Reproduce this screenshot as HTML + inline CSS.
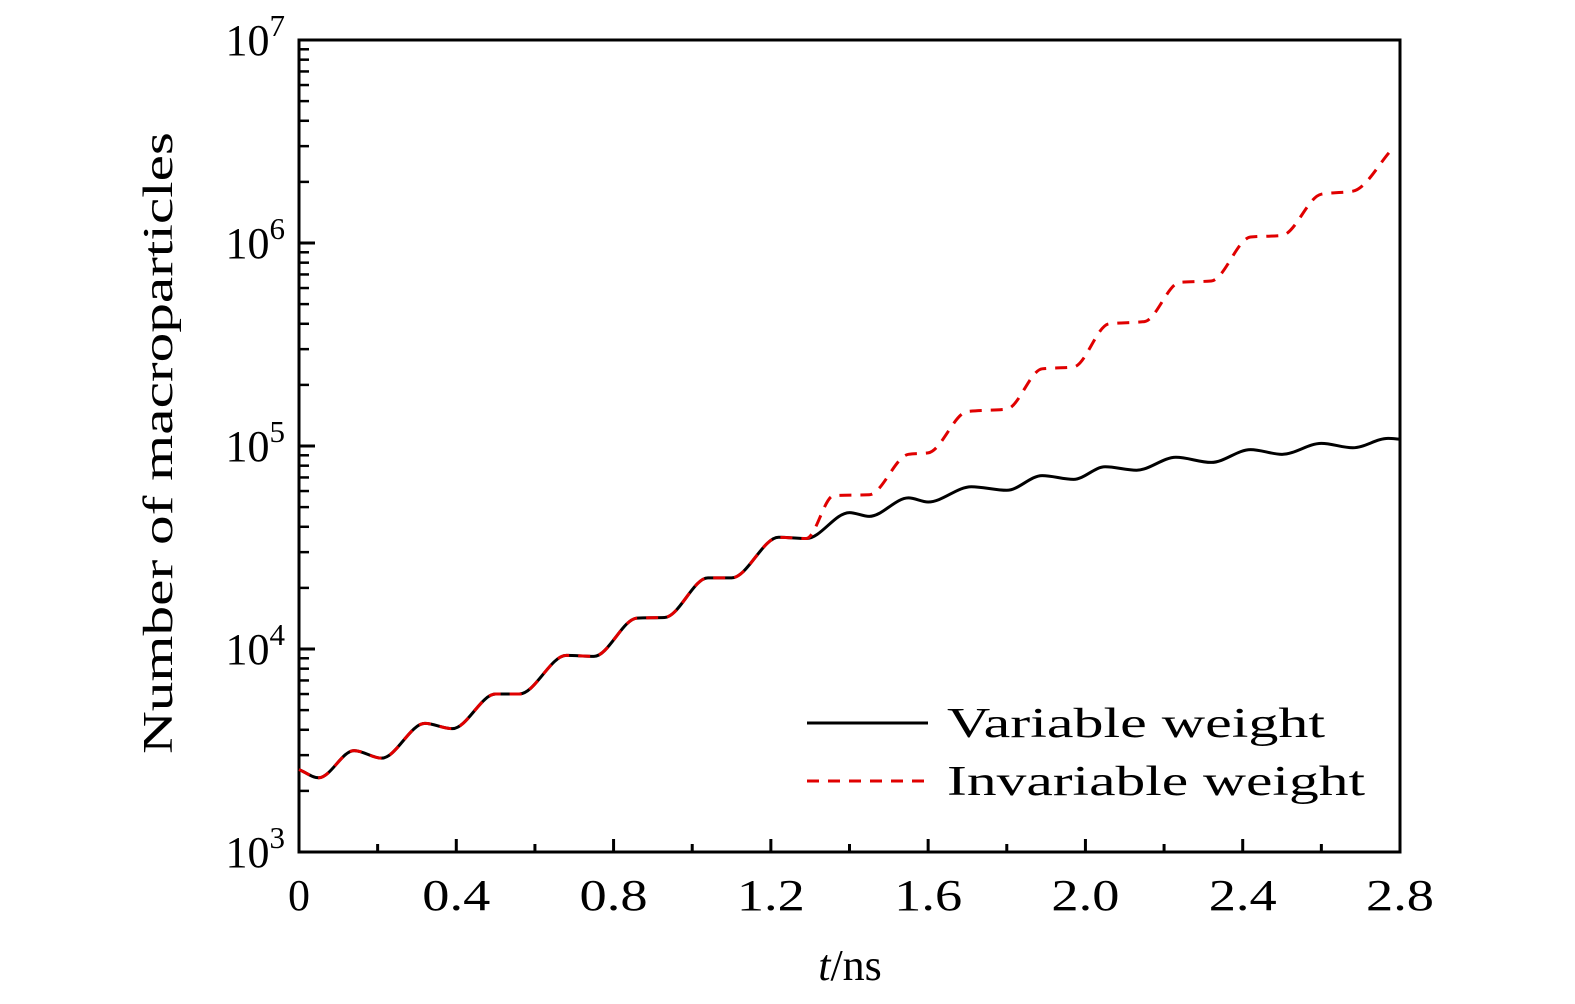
<!DOCTYPE html>
<html><head><meta charset="utf-8">
<style>
html,body{margin:0;padding:0;background:#fff;}
svg{display:block;}
text{font-family:"Liberation Serif",serif;fill:#000;}
</style></head>
<body>
<svg id="chart" width="1575" height="1004" viewBox="0 0 1575 1004" xmlns="http://www.w3.org/2000/svg">
<g id="axes"></g>
<g id="series"></g>
<g id="legend">
  <line x1="807" y1="723" x2="928" y2="723" stroke="#000" stroke-width="3"/>
  <text x="947" y="737" font-size="42" textLength="378" lengthAdjust="spacingAndGlyphs">Variable weight</text>
  <line x1="807" y1="781" x2="928" y2="781" stroke="#e00000" stroke-width="3" stroke-dasharray="12,9"/>
  <text x="947" y="795" font-size="42" textLength="418" lengthAdjust="spacingAndGlyphs">Invariable weight</text>
</g>
</svg>
<script>
const blackT=[0,0.05,0.14,0.21,0.32,0.39,0.5,0.56,0.68,0.75,0.86,0.93,1.04,1.1,1.22,1.29,1.4,1.45,1.55,1.6,1.71,1.8,1.89,1.97,2.05,2.13,2.23,2.32,2.42,2.5,2.6,2.68,2.77,2.8];
const blackV=[2550,2320,3160,2900,4300,4050,6000,6000,9300,9200,14200,14300,22400,22400,35500,35000,47000,45000,55500,53000,63000,60500,71500,68500,79000,76000,88000,83000,96000,91000,103000,98000,109000,108000];
const redT=[0,0.05,0.14,0.21,0.32,0.39,0.5,0.56,0.68,0.75,0.86,0.93,1.04,1.1,1.22,1.29,1.36,1.45,1.55,1.6,1.7,1.8,1.89,1.97,2.06,2.15,2.24,2.32,2.42,2.5,2.6,2.68,2.78];
const redV=[2550,2320,3160,2900,4300,4050,6000,6000,9300,9200,14200,14300,22400,22400,35500,35000,57000,57500,91000,92500,148000,152000,240000,245000,400000,410000,640000,650000,1070000,1090000,1740000,1800000,2900000];
const xTicks=[0,0.4,0.8,1.2,1.6,2.0,2.4,2.8];
const xTickLabels=["0","0.4","0.8","1.2","1.6","2.0","2.4","2.8"];
const yDecades=[3,4,5,6,7];

const X0=299,X1=1400,Y0=852,Y1=40;
const sx=t=>X0+(t/2.8)*(X1-X0);
const sy=v=>Y0-(Math.log10(v)-3)/4*(Y0-Y1);
const NS="http://www.w3.org/2000/svg";
function mk(tag,attrs,parent){const e=document.createElementNS(NS,tag);for(const k in attrs)e.setAttribute(k,attrs[k]);parent.appendChild(e);return e;}
const axes=document.getElementById('axes');
const frame=mk('rect',{x:X0,y:Y1,width:X1-X0,height:Y0-Y1,fill:'none',stroke:'#000','stroke-width':3},axes);


for(let i=0;i<=14;i++){
  const t=i*0.2,x=sx(t),len=(i%2==0)?13:8;
  const l=mk('line',{x1:x,y1:Y0,x2:x,y2:Y0-len,stroke:'#000','stroke-width':3},axes);
  
  
}
xTicks.forEach((t,i)=>{
  const tx=mk('text',{x:sx(t),y:910,'font-size':44,'text-anchor':'middle'},axes);
  tx.textContent=xTickLabels[i];
  if(xTickLabels[i].length>1){tx.setAttribute('textLength',68);tx.setAttribute('lengthAdjust','spacingAndGlyphs');}
  
  
});
yDecades.forEach(d=>{
  const y=sy(Math.pow(10,d));
  const l=mk('line',{x1:X0,y1:y,x2:X0+16,y2:y,stroke:'#000','stroke-width':3},axes);
  
  
  if(d<7){for(let m=2;m<=9;m++){const ym=sy(m*Math.pow(10,d));
    const lm=mk('line',{x1:X0,y1:ym,x2:X0+10,y2:ym,stroke:'#000','stroke-width':2.5},axes);
    
    }}
  const tx=mk('text',{x:285,y:y+15,'font-size':44,'text-anchor':'end'},axes);
  tx.innerHTML='10<tspan dy="-19" font-size="31">'+d+'</tspan>';
  
  
});
const xt=mk('text',{x:850,y:980,'font-size':44,'text-anchor':'middle'},axes);
xt.innerHTML='<tspan font-style="italic">t</tspan>/ns';


const yt=mk('text',{x:0,y:0,'font-size':42,'text-anchor':'middle',textLength:622,lengthAdjust:'spacingAndGlyphs',transform:'translate(172,443) rotate(-90)'},axes);
yt.textContent='Number of macroparticles';



function pathFor(T,V){
  const p=T.map((t,i)=>[sx(t),sy(V[i])]);
  const n=p.length,d=[],m=[];
  for(let i=0;i<n-1;i++)d.push((p[i+1][1]-p[i][1])/(p[i+1][0]-p[i][0]));
  m[0]=d[0];m[n-1]=d[n-2];
  for(let i=1;i<n-1;i++){m[i]=(d[i-1]*d[i]<=0)?0:2/(1/d[i-1]+1/d[i]);}
  let s='M'+p[0][0]+','+p[0][1];
  for(let i=0;i<n-1;i++){
    const h=(p[i+1][0]-p[i][0])/3;
    s+=' C'+(p[i][0]+h)+','+(p[i][1]+m[i]*h)+' '+(p[i+1][0]-h)+','+(p[i+1][1]-m[i+1]*h)+' '+p[i+1][0]+','+p[i+1][1];
  }
  return s;
}
const series=document.getElementById('series');
const bl=mk('path',{d:pathFor(blackT,blackV),fill:'none',stroke:'#000','stroke-width':3},series);


const rl=mk('path',{d:pathFor(redT,redV),fill:'none',stroke:'#e00000','stroke-width':3,'stroke-dasharray':'12,9'},series);


</script>
</body></html>
